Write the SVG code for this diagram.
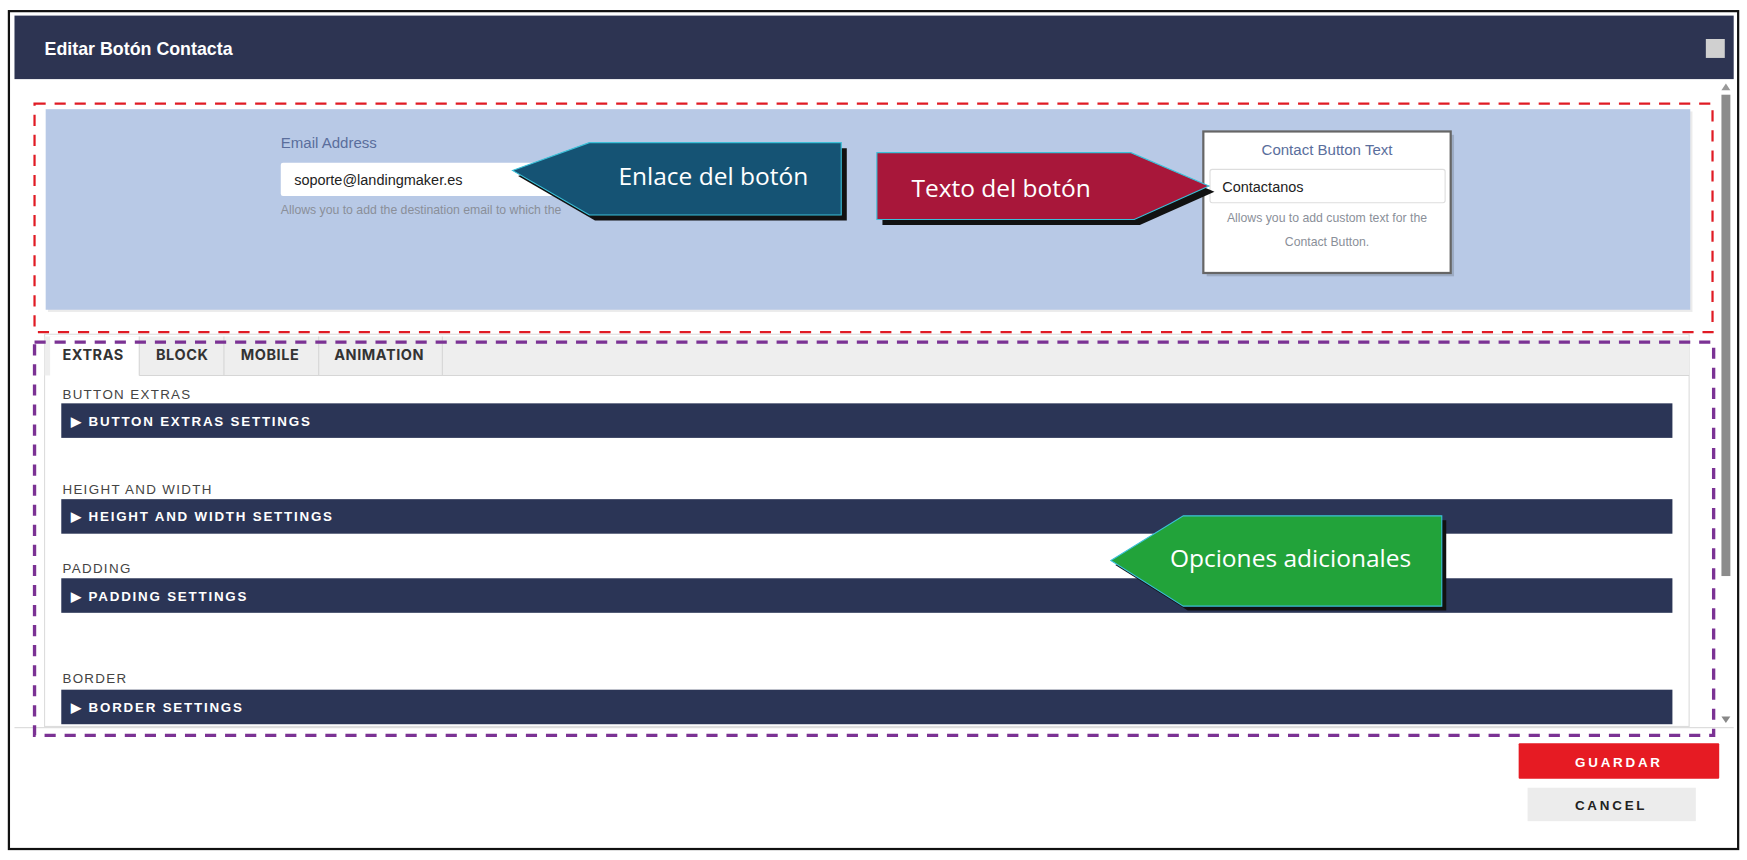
<svg xmlns="http://www.w3.org/2000/svg" width="1747" height="860" viewBox="0 0 1747 860">
<style>
text{font-family:"Liberation Sans",Arial,sans-serif}
.ui{font-family:"Inter","Liberation Sans",sans-serif}
.lbl{font-size:12px;fill:#444;letter-spacing:1.2px}
.bar{fill:#2b3556}
.bt{font-size:12px;fill:#fff;font-weight:bold;letter-spacing:1.6px}
.tab{font-size:13px;font-weight:bold;fill:#333;letter-spacing:0.5px}
.call{font-family:"Open Sans","Liberation Sans",sans-serif;font-size:22px;fill:#fff}
.help{font-size:11px;fill:#8a8f99}
</style>
<rect width="1747" height="860" fill="#fff"/>
<g transform="scale(1.1142)">
<g id="frame">
<rect x="8" y="10" width="1552" height="752" fill="#fff" stroke="#111" stroke-width="2"/>
<rect x="13" y="14" width="1543" height="57" fill="#2d3452"/>
<text x="40" y="49" font-size="16" font-weight="bold" fill="#fff">Editar Botón Contacta</text>
<rect x="1531" y="35" width="17" height="17" fill="#d0d0d0"/>
<rect x="1545" y="85" width="8" height="432" fill="#8c8c8c"/>
<polygon points="1545,81 1553,81 1549,75" fill="#999"/>
<polygon points="1545,643 1553,643 1549,649" fill="#888"/>
<line x1="13" y1="653" x2="1556" y2="653" stroke="#ddd"/>
</g>
<g id="panel">
<rect x="43" y="100" width="1476" height="180" fill="#000" opacity="0.08"/>
<rect x="41" y="98" width="1476" height="180" fill="#b8c9e6"/>
<text x="252" y="133" font-size="13.5" fill="#5a6e9c">Email Address</text>
<rect x="252" y="146" width="300" height="30" rx="2" fill="#fff"/>
<text x="264" y="166" font-size="13" fill="#222">soporte@landingmaker.es</text>
<text x="252" y="192" class="help">Allows you to add the destination email to which the</text>
</g>
<g id="contact-box">
<rect x="1083" y="121" width="222" height="127" fill="#000" opacity="0.15"/>
<rect x="1080" y="118" width="222" height="127" fill="#fff" stroke="#666" stroke-width="2"/>
<text x="1191" y="139" font-size="13.5" fill="#5a6e9c" text-anchor="middle">Contact Button Text</text>
<rect x="1086" y="152" width="211" height="30" rx="2" fill="#fff" stroke="#ddd"/>
<text x="1097" y="172" font-size="13" fill="#222">Contactanos</text>
<text x="1191" y="199" class="help" text-anchor="middle">Allows you to add custom text for the</text>
<text x="1191" y="221" class="help" text-anchor="middle">Contact Button.</text>
</g>
<g id="callout-enlace">
<polygon points="465,158 534,133 760,133 760,198 534,198" fill="#111"/>
<polygon points="460,153 529,128 755,128 755,193 529,193" fill="#155374" stroke="#3bc0d8"/>
<text x="555" y="166" class="call">Enlace del botón</text>
</g>
<g id="callout-texto">
<polygon points="792,142 1020,142 1090,172 1023,202 792,202" fill="#111"/>
<polygon points="787,137 1015,137 1085,167 1018,197 787,197" fill="#a8173a" stroke="#3bc0d8"/>
<text x="818" y="177" class="call">Texto del botón</text>
</g>
<g id="tabs">
<rect x="40" y="300" width="1476" height="352" fill="#fff" stroke="#ddd"/>
<rect x="40" y="302" width="1476" height="35" fill="#eee"/>
<rect x="45" y="302" width="80" height="36" fill="#fff"/>
<g stroke="#d6d6d6"><line x1="125" y1="302" x2="125" y2="337"/><line x1="201" y1="302" x2="201" y2="337"/><line x1="286" y1="302" x2="286" y2="337"/><line x1="397" y1="302" x2="397" y2="337"/><line x1="125" y1="337" x2="1516" y2="337"/></g>
<text x="56" y="323" class="tab ui">EXTRAS</text>
<text x="140" y="323" class="tab ui">BLOCK</text>
<text x="216" y="323" class="tab ui">MOBILE</text>
<text x="300" y="323" class="tab ui">ANIMATION</text>
</g>
<g id="sections">
<text x="56" y="358" class="lbl">BUTTON EXTRAS</text>
<rect x="55" y="362" width="1446" height="31" class="bar"/>
<text x="64" y="382" class="bt">▶ BUTTON EXTRAS SETTINGS</text>
<text x="56" y="443" class="lbl">HEIGHT AND WIDTH</text>
<rect x="55" y="448" width="1446" height="31" class="bar"/>
<text x="64" y="468" class="bt">▶ HEIGHT AND WIDTH SETTINGS</text>
<text x="56" y="514" class="lbl">PADDING</text>
<rect x="55" y="519" width="1446" height="31" class="bar"/>
<text x="64" y="539" class="bt">▶ PADDING SETTINGS</text>
<text x="56" y="613" class="lbl">BORDER</text>
<rect x="55" y="619" width="1446" height="31" class="bar"/>
<text x="64" y="639" class="bt">▶ BORDER SETTINGS</text>
</g>
<g id="callout-opciones">
<polygon points="1001,507 1066,467 1298,467 1298,548 1066,548" fill="#111"/>
<polygon points="997,503 1062,463 1294,463 1294,544 1062,544" fill="#22a33a" stroke="#3bc0d8"/>
<text x="1050" y="509" class="call">Opciones adicionales</text>
</g>
<g id="highlights" fill="none">
<rect x="31" y="93" width="1506" height="205" stroke="#e01b24" stroke-width="2" stroke-dasharray="10,8"/>
<rect x="31" y="307" width="1507" height="353" stroke="#7b3294" stroke-width="3" stroke-dasharray="10,8"/>
</g>
<g id="buttons">
<rect x="1363" y="667" width="180" height="32" rx="1" fill="#e61b23"/>
<text x="1453" y="688" text-anchor="middle" font-size="12" font-weight="bold" fill="#fff" letter-spacing="2.5">GUARDAR</text>
<rect x="1371" y="707" width="151" height="30" fill="#ececec"/>
<text x="1446" y="727" text-anchor="middle" font-size="12" font-weight="bold" fill="#222" letter-spacing="2.5">CANCEL</text>
</g>
</g>
</svg>
